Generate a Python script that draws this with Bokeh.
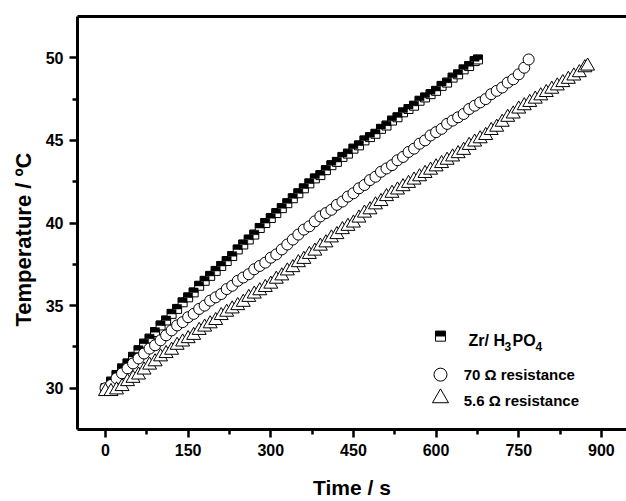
from bokeh.plotting import figure
from bokeh.models import LinearAxis, FixedTicker, Label, ColumnDataSource, Range1d, Title
from bokeh.transform import dodge
from bokeh.embed import file_html
from bokeh.resources import INLINE

# ---------------- data ----------------
zr_time = [0, 10, 20, 30, 40, 50, 60, 70, 80, 90, 100, 110, 120, 130, 140, 150, 160, 170, 180, 190,
           200, 210, 220, 230, 240, 250, 260, 270, 280, 290, 300, 310, 320, 330, 340, 350, 360, 370, 380, 390,
           400, 410, 420, 430, 440, 450, 460, 470, 480, 490, 500, 510, 520, 530, 540, 550, 560, 570, 580, 590,
           600, 610, 620, 630, 640, 650, 660, 670, 676]
zr_temp = [30.0, 30.4, 30.8, 31.2, 31.5, 31.9, 32.3, 32.7, 33.0, 33.4, 33.8, 34.1, 34.5, 34.8, 35.2, 35.5, 35.8, 36.2, 36.5, 36.8,
           37.1, 37.4, 37.7, 38.0, 38.4, 38.7, 39.0, 39.3, 39.7, 40.0, 40.3, 40.6, 40.9, 41.2, 41.5, 41.8, 42.1, 42.4, 42.7, 42.9,
           43.2, 43.5, 43.7, 44.0, 44.2, 44.5, 44.7, 45.0, 45.2, 45.4, 45.7, 45.9, 46.2, 46.4, 46.7, 46.9, 47.1, 47.4, 47.6, 47.8,
           48.0, 48.3, 48.5, 48.8, 49.0, 49.3, 49.5, 49.8, 49.9]

r70_time = [0, 10, 20, 30, 40, 50, 60, 70, 80, 90, 100, 110, 120, 130, 140, 150, 160, 170, 180, 190,
            200, 210, 220, 230, 240, 250, 260, 270, 280, 290, 300, 310, 320, 330, 340, 350, 360, 370, 380, 390,
            400, 410, 420, 430, 440, 450, 460, 470, 480, 490, 500, 510, 520, 530, 540, 550, 560, 570, 580, 590,
            600, 610, 620, 630, 640, 650, 660, 670, 680, 690, 700, 710, 720, 730, 740, 750, 760, 768]
r70_temp = [30.0, 30.2, 30.6, 30.9, 31.2, 31.5, 31.8, 32.1, 32.4, 32.6, 32.9, 33.2, 33.5, 33.8, 34.0, 34.3, 34.5, 34.8, 35.0, 35.3,
            35.5, 35.7, 36.0, 36.2, 36.5, 36.7, 36.9, 37.2, 37.4, 37.6, 37.9, 38.1, 38.4, 38.7, 39.0, 39.3, 39.6, 39.8, 40.1, 40.4,
            40.6, 40.8, 41.1, 41.3, 41.6, 41.8, 42.1, 42.3, 42.6, 42.8, 43.1, 43.3, 43.5, 43.8, 44.0, 44.3, 44.5, 44.8, 45.0, 45.3,
            45.5, 45.7, 46.0, 46.2, 46.4, 46.6, 46.9, 47.1, 47.3, 47.5, 47.8, 48.0, 48.2, 48.5, 48.7, 49.0, 49.4, 49.9]

r56_time = [0, 10, 20, 30, 40, 50, 60, 70, 80, 90, 100, 110, 120, 130, 140, 150, 160, 170, 180, 190,
            200, 210, 220, 230, 240, 250, 260, 270, 280, 290, 300, 310, 320, 330, 340, 350, 360, 370, 380, 390,
            400, 410, 420, 430, 440, 450, 460, 470, 480, 490, 500, 510, 520, 530, 540, 550, 560, 570, 580, 590,
            600, 610, 620, 630, 640, 650, 660, 670, 680, 690, 700, 710, 720, 730, 740, 750, 760, 770, 780, 790,
            800, 810, 820, 830, 840, 850, 860, 870, 875]
r56_temp = [29.8, 29.8, 29.9, 30.1, 30.4, 30.6, 30.8, 31.1, 31.4, 31.6, 31.9, 32.1, 32.3, 32.6, 32.8, 33.0, 33.2, 33.5, 33.7, 33.9,
            34.1, 34.4, 34.6, 34.8, 35.0, 35.2, 35.5, 35.7, 35.9, 36.1, 36.3, 36.6, 36.8, 37.1, 37.3, 37.6, 37.8, 38.1, 38.3, 38.6,
            38.8, 39.1, 39.3, 39.6, 39.8, 40.0, 40.3, 40.6, 40.8, 41.1, 41.3, 41.6, 41.8, 42.0, 42.2, 42.4, 42.6, 42.8, 43.0, 43.2,
            43.4, 43.6, 43.8, 44.0, 44.2, 44.4, 44.7, 44.9, 45.1, 45.3, 45.6, 45.8, 46.1, 46.4, 46.6, 46.9, 47.1, 47.3, 47.5, 47.7,
            47.9, 48.1, 48.3, 48.5, 48.7, 48.9, 49.1, 49.4, 49.5]

x_ticks = [0, 150, 300, 450, 600, 750, 900]
x_minor = [75, 225, 375, 525, 675, 825]
y_ticks = [30, 35, 40, 45, 50]
y_minor = [32.5, 37.5, 42.5, 47.5]

FONT = "Liberation Sans"
X0, X1 = -50.8, 945.6
Y0, Y1 = 27.5, 52.5

p = figure(width=626, height=501, x_range=Range1d(X0, X1), y_range=Range1d(Y0, Y1),
           output_backend="svg", toolbar_location=None,
           min_border_left=77, min_border_right=0, min_border_top=16, min_border_bottom=68,
           x_axis_label="Time / s")
p.outline_line_color = None
p.xgrid.visible = False
p.ygrid.visible = False
p.background_fill_color = "white"

p.xaxis.ticker = FixedTicker(ticks=x_ticks, minor_ticks=x_minor)
p.yaxis.ticker = FixedTicker(ticks=y_ticks, minor_ticks=y_minor)
for ax in (p.xaxis[0], p.yaxis[0]):
    ax.axis_line_width = 3
    ax.axis_line_color = "black"
    ax.major_tick_line_width = 2.5
    ax.minor_tick_line_width = 2.5
    ax.major_tick_in = 0
    ax.major_tick_out = 8
    ax.minor_tick_in = 0
    ax.minor_tick_out = 5
    ax.major_label_text_font = FONT
    ax.major_label_text_font_style = "bold"
    ax.major_label_text_font_size = "16px"
    ax.major_label_text_color = "black"
    ax.axis_label_text_font = FONT
    ax.axis_label_text_font_style = "bold"
    ax.axis_label_text_font_size = "21px"
    ax.axis_label_text_color = "black"
    ax.major_label_standoff = 6
p.xaxis.axis_label_standoff = 17

top = LinearAxis(ticker=FixedTicker(ticks=[]), axis_line_width=3, axis_line_color="black",
                 major_tick_out=0, minor_tick_out=0, major_tick_in=0, minor_tick_in=0)
p.add_layout(top, "above")

# y-axis title (a little below the frame centre, as in the original)
p.add_layout(Title(text="Temperature / ºC", align="left", offset=103, standoff=13,
                   text_font=FONT, text_font_style="bold", text_font_size="22px",
                   text_color="black"), "left")

# Zr/H3PO4 : half-filled squares
src_zr = ColumnDataSource(dict(t=zr_time, T=zr_temp))
p.scatter("t", "T", source=src_zr, marker="square", size=9, fill_color="white",
          line_color="black", line_width=1)
p.rect(x="t", y=dodge("T", 0.13, range=p.y_range), width=9, height=4.5,
       width_units="screen", height_units="screen", source=src_zr,
       fill_color="black", line_color="black", line_width=0.5)

# 70 ohm : open circles
src_70 = ColumnDataSource(dict(t=r70_time, T=r70_temp))
p.scatter("t", "T", source=src_70, marker="circle", size=11, fill_color="white",
          line_color="black", line_width=1)

# 5.6 ohm : open triangles
src_56 = ColumnDataSource(dict(t=r56_time, T=r56_temp))
p.scatter("t", "T", source=src_56, marker="triangle", size=14, fill_color="white",
          line_color="black", line_width=1)

# ---------------- legend ----------------
leg_x = [608]
leg_y_sq = [33.15]
leg_y_ci = [30.82]
leg_y_tr = [29.40]
lsrc = ColumnDataSource(dict(x=leg_x, y=leg_y_sq))
p.scatter("x", "y", source=lsrc, marker="square", size=10, fill_color="white",
          line_color="black", line_width=1)
p.rect(x="x", y=dodge("y", 0.15, range=p.y_range), width=10, height=5,
       width_units="screen", height_units="screen", source=lsrc,
       fill_color="black", line_color="black", line_width=0.5)
p.scatter(x=leg_x, y=leg_y_ci, marker="circle", size=13, fill_color="white",
          line_color="black", line_width=1)
p.scatter(x=leg_x, y=leg_y_tr, marker="triangle", size=16, fill_color="white",
          line_color="black", line_width=1)

def lab(x, y, text, size="15px", dx=0, dy=0):
    p.add_layout(Label(x=x, y=y, text=text, x_offset=dx, y_offset=dy,
                       text_font=FONT, text_font_style="bold", text_font_size=size,
                       text_baseline="middle", text_align="left", text_color="black"))

lab(659, 32.86, "Zr/ H", size="16px")
lab(659, 32.86, "3", size="12px", dx=36, dy=-6)
lab(659, 32.86, "PO", size="16px", dx=44)
lab(659, 32.86, "4", size="12px", dx=67, dy=-6)
lab(650, 30.82, "70 Ω resistance")
lab(650, 29.28, "5.6 Ω resistance")

open("out.html", "w").write(file_html(p, INLINE))
